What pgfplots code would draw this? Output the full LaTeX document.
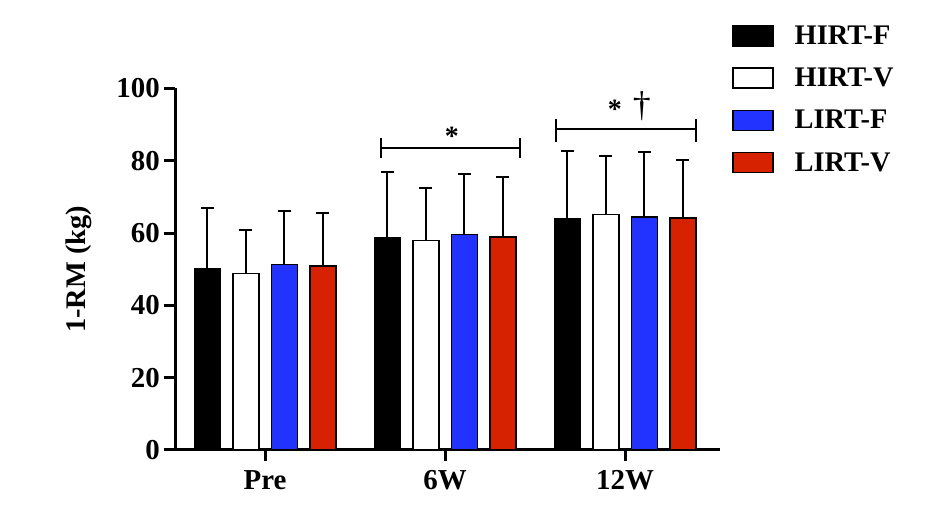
\documentclass[border=0pt]{standalone}
\usepackage{pgfplots}
\pgfplotsset{compat=1.18}
\usepackage{fontspec}
\setmainfont{Liberation Serif}
\definecolor{myblue}{RGB}{34,51,255}
\definecolor{myred}{RGB}{214,34,0}
\begin{document}
\begin{tikzpicture}
\useasboundingbox (0,0) rectangle (945bp,531bp);
\begin{axis}[
  at={(175bp,81bp)}, anchor=south west,
  scale only axis, width=545.4bp, height=361.5bp,
  xmin=-0.5, xmax=2.53, ymin=0, ymax=100,
  clip=false,
  axis x line*=bottom, axis y line*=left,
  axis line style={line width=3bp, black},
  tick align=outside, major tick length=11bp,
  major tick style={line width=3bp, black},
  xtick={0,1,2}, xticklabels={Pre,6W,12W},
  ytick={0,20,40,60,80,100},
  /pgf/number format/assume math mode=true,
  yticklabel style={font=\fontsize{29}{29}\selectfont\bfseries, inner sep=0pt, xshift=-4bp},
  xticklabel style={font=\fontsize{29}{29}\selectfont\bfseries, inner sep=0pt, yshift=-9bp},
  ylabel={1-RM (kg)},
  ylabel style={font=\fontsize{28.5}{28.5}\selectfont\bfseries, at={(axis description cs:-0.176,0.5)}, anchor=center},
  ybar=12.5bp, bar width=26bp,
  legend image code/.code={\draw[#1, line width=1.5bp] (0bp,-10bp) rectangle (40bp,10bp);},
  legend style={at={(axis description cs:1.0213,1.1757)}, anchor=north west,
    draw=none, fill=none, inner sep=0pt, row sep=20.7bp, column sep=21bp,
    font=\fontsize{28.5}{28.5}\selectfont\bfseries, nodes={inner sep=0pt}},
  legend cell align=left,
  error bars/y dir=plus, error bars/y explicit,
  error bars/error bar style={line width=2bp, black},
  error bars/error mark options={rotate=90, mark size=6.5bp, line width=2bp, black},
]
\addplot[fill=black, draw=black, line width=1.5bp] coordinates {(0,50.1) +- (0,16.8) (1,58.6) +- (0,18.3) (2,64.0) +- (0,18.7)};
\addlegendentry{HIRT-F}
\addplot[fill=white, draw=black, line width=1.5bp] coordinates {(0,48.8) +- (0,12.1) (1,57.9) +- (0,14.5) (2,65.2) +- (0,16.2)};
\addlegendentry{HIRT-V}
\addplot[fill=myblue, draw=black, line width=1.5bp] coordinates {(0,51.3) +- (0,14.8) (1,59.6) +- (0,16.7) (2,64.5) +- (0,17.9)};
\addlegendentry{LIRT-F}
\addplot[fill=myred, draw=black, line width=1.5bp] coordinates {(0,50.9) +- (0,14.6) (1,58.9) +- (0,16.6) (2,64.2) +- (0,16.1)};
\addlegendentry{LIRT-V}
% significance brackets
\draw[line width=2bp] (axis cs:0.642,83.46) -- (axis cs:1.419,83.46);
\draw[line width=2bp] (axis cs:0.642,86.3) -- (axis cs:0.642,80.8);
\draw[line width=2bp] (axis cs:1.419,86.3) -- (axis cs:1.419,80.8);
\node[font=\fontsize{28}{28}\selectfont\bfseries, anchor=base, inner sep=0pt] at (axis cs:1.038,84.3) {*};
\draw[line width=2bp] (axis cs:1.618,88.71) -- (axis cs:2.396,88.71);
\draw[line width=2bp] (axis cs:1.618,91.56) -- (axis cs:1.618,85.28);
\draw[line width=2bp] (axis cs:2.396,91.56) -- (axis cs:2.396,85.28);
\node[font=\fontsize{28}{28}\selectfont\bfseries, anchor=base, inner sep=0pt] at (axis cs:1.943,91.7) {*};
\node[font=\fontsize{36}{36}\selectfont, anchor=base, inner sep=0pt] at (axis cs:2.094,92.2) {†};
\end{axis}
\end{tikzpicture}
\end{document}
